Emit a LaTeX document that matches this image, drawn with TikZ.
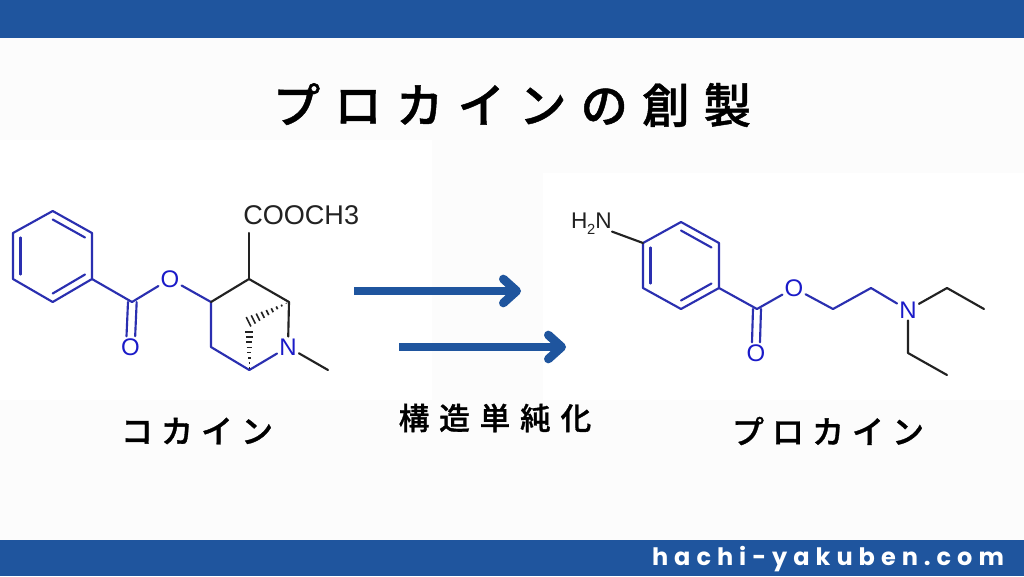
\documentclass[tikz,border=0pt]{standalone}
\usepackage{fontspec}
\setmainfont{Liberation Sans}
\newfontfamily\jpspaced[LetterSpace=30,FakeBold=1.0]{Noto Sans CJK JP Medium}
\newfontfamily\jplabel[LetterSpace=25,FakeBold=1.0]{Noto Sans CJK JP Medium}
\newfontfamily\jpwide[LetterSpace=32,FakeBold=1.0]{Noto Sans CJK JP Medium}
\newfontfamily\urlfont[LetterSpace=25]{Poppins}
\usetikzlibrary{arrows.meta,calc}
\definecolor{barblue}{HTML}{1F559E}
\definecolor{molblue}{HTML}{2A2FB0}
\definecolor{atomblue}{HTML}{1A1AC8}
\definecolor{molblack}{HTML}{222222}
\definecolor{pagebg}{HTML}{FCFCFC}
\tikzset{
  x=0.75pt,y=-0.75pt,
  bar/.style={fill=barblue,draw=none},
  patch/.style={fill=white,draw=none},
  bb/.style={draw=molblue,line width=1.6pt,line cap=round,line join=round},
  bk/.style={draw=molblack,line width=1.6pt,line cap=round,line join=round},
  atom/.style={text=atomblue,font=\fontsize{18}{18}\selectfont,inner sep=1.5pt},
  batom/.style={text=molblack,font=\fontsize{17}{17}\selectfont,inner sep=1.5pt},
  bigarrow/.style={draw=barblue,line width=5.4pt,-{Straight Barb[length=10pt,width=18pt,line width=6.5pt,round]}},
  hash/.style={draw=molblack,line width=1.2pt},
  title/.style={font=\jpspaced\fontsize{35.5}{36}\selectfont,text=black,inner sep=0pt},
  lab/.style={font=\jplabel\fontsize{24}{24}\selectfont,text=black,inner sep=0pt},
}
\begin{document}
\begin{tikzpicture}
\useasboundingbox (0,0) rectangle (1024,576);
\fill[pagebg] (0,0) rectangle (1024,576);
\fill[patch] (0,140) rectangle (432,400);
\fill[patch] (543,173) rectangle (1024,400);
\fill[bar] (0,0) rectangle (1024,38);
\fill[bar] (0,540) rectangle (1024,576);
\node[title] (t) at (512,105) {プロカインの創製};
\node[lab] (lc) at (197,431) {コカイン};
\node[lab] (lp) at (828,431) {プロカイン};
\node[lab,font=\jpwide\fontsize{23}{23}\selectfont] (ls) at (495,418) {構造単純化};
\node[font=\urlfont\bfseries\fontsize{18}{18}\selectfont,text=white,inner sep=0pt] (u) at (828,559) {hachi-yakuben.com};
% arrows
\coordinate (a1s) at (354,291); \coordinate (a1e) at (521,291);
\coordinate (a2s) at (399,347); \coordinate (a2e) at (566,347);
\draw[bigarrow] (a1s) -- (a1e);
\draw[bigarrow] (a2s) -- (a2e);
% cocaine
\foreach \n/\x/\y in {c1/52.7/211,c2/92/233,c3/92/279,c4/52.7/302,c5/13/279,c6/13/233,c7/132/302,c8/211/302,c9/249/279,c10/249/233,c11/289/302,c12/249.3/370,c13/211/347,c14/328/370,c15/246/323,c16/249.3/323,
i1/52.7/219.5,i2/85/237.5,i3/85/274.5,i4/52.7/293.5,i5/20.5/274.5,i6/20.5/237.5}
  \coordinate (\n) at (\x,\y);
\node[atom] (o1) at (170,279) {O};
\node[atom] (o2) at (130.5,347) {O};
\node[atom] (n1) at (288,347) {N};
\node[batom,anchor=west,font=\fontsize{20.3}{21}\selectfont,inner sep=0pt] (cooch) at (243,215) {COOCH3};
\draw[bb] (c1) -- (c2) -- (c3) -- (c4) -- (c5) -- (c6) -- cycle;
\draw[bb] (i1) -- (i2);
\draw[bb] (i3) -- (i4);
\draw[bb] (i5) -- (i6);
\draw[bb] (c3) -- (c7) -- (o1);
\draw[bb] ([xshift=-3]c7) -- ([xshift=-3]o2.north);
\draw[bb] ([xshift=3.5]c7) -- ([xshift=3.5]o2.north);
\draw[bb] (o1) -- (c8) -- (c13) -- (c12) -- (n1);
\draw[bk] (c8) -- (c9) -- (c11) -- (n1);
\draw[bk] (c9) -- (c10);
\draw[bk] (n1) -- (c14);
\foreach \t in {0.06,0.17,...,1.0}
  \draw[hash] ($(c11)!\t!(c15)+(-\t*2.5,-\t*5)$) -- ($(c11)!\t!(c15)+(\t*2.5,\t*5)$);
\foreach \t in {0.04,0.15,...,0.84}
  \draw[hash] ($(c12)!\t!(c16)+(-\t*5,0)$) -- ($(c12)!\t!(c16)+(\t*5,0)$);
% procaine
\foreach \n/\x/\y in {p1/643/243,p2/681/222,p3/719/243,p4/719/288,p5/681/309,p6/643/288,p7/757/309,p8/833/309,p9/871/288,p10/947/288,p11/984/309,p12/908/353,p13/947/375,
q1/650.5/247.5,q6/650.5/283.5,q2/681/230.5,q3/711.5/247.5,q4/711.5/283.5,q5/681/300.5}
  \coordinate (\n) at (\x,\y);
\node[batom,anchor=east,inner sep=0pt] (nh2) at (612,224) {H\kern-0.2pt\raisebox{-0.25em}{\fontsize{11}{11}\selectfont 2}N};
\node[atom] (o3) at (794,288) {O};
\node[atom] (o4) at (756,353) {O};
\node[atom] (n2) at (908,310) {N};
\draw[bb] (p1) -- (p2) -- (p3) -- (p4) -- (p5) -- (p6) -- cycle;
\draw[bb] (q1) -- (q6);
\draw[bb] (q2) -- (q3);
\draw[bb] (q4) -- (q5);
\draw[bk] (nh2) -- (p1);
\draw[bb] (p4) -- (p7) -- (o3) -- (p8) -- (p9) -- (n2);
\draw[bb] ([xshift=-3]p7) -- ([xshift=-3]o4.north);
\draw[bb] ([xshift=3]p7) -- ([xshift=3]o4.north);
\draw[bk] (n2) -- (p10) -- (p11);
\draw[bk] (n2) -- (p12) -- (p13);
\end{tikzpicture}
\end{document}
